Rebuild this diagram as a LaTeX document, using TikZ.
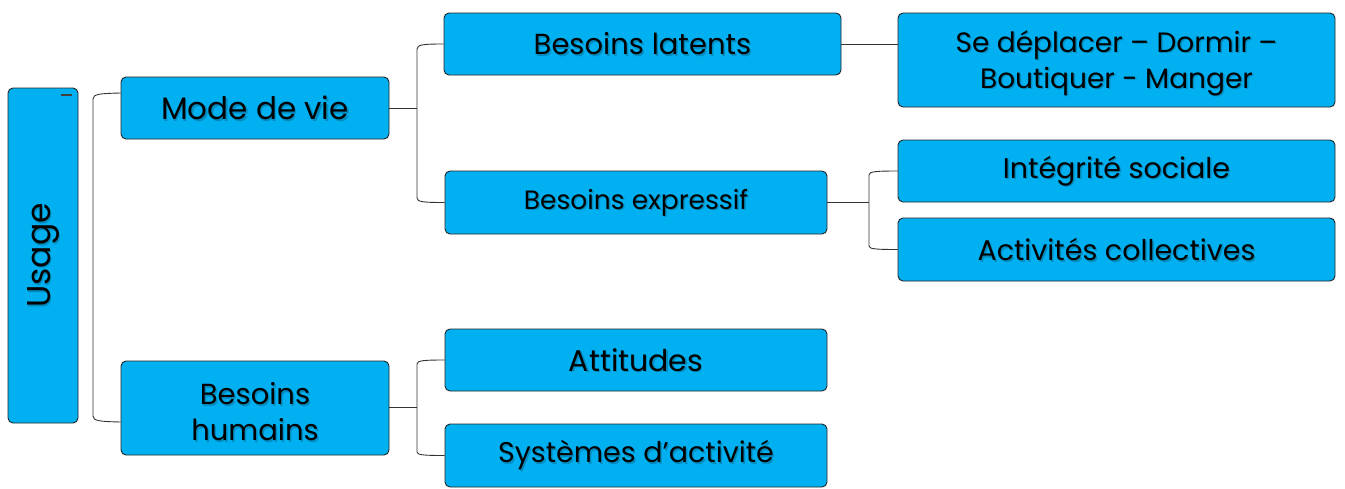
\documentclass[tikz,border=0pt]{standalone}
\usepackage{fontspec}
\setmainfont{Poppins}
\usetikzlibrary{calc}
\definecolor{boxblue}{RGB}{0,176,240}
\tikzset{
  box/.style={draw=black!85, line width=0.9pt, fill=boxblue, rounded corners=5pt, inner sep=0pt},
  lbl/.style={align=center, inner sep=0pt, text=black},
  shd/.style={align=center, inner sep=0pt, text=black, opacity=0.2},
  conn/.style={draw=black!80, line width=0.9pt}
}
% name, cx, cy, w, h, fontsize, text y-offset, text
\newcommand\bxnode[8]{%
  \node[box, minimum width=#4pt, minimum height=#5pt] (#1) at (#2,#3) {};
  \node[shd, font=\fontsize{#6pt}{36pt}\selectfont] at ($(#1.center)+(1.5,#7+1.5)$) {#8};
  \node[lbl, font=\fontsize{#6pt}{36pt}\selectfont] at ($(#1.center)+(0,#7)$) {#8};}
\begin{document}
\begin{tikzpicture}[x=1pt,y=-1pt]
\useasboundingbox (0,0) rectangle (1345,488);
% boxes
\node[box, minimum width=70pt, minimum height=335pt] (usage) at (43,255.5) {};
\node[shd, rotate=90, font=\fontsize{33pt}{36pt}\selectfont] at ($(usage.center)+(1.5,1.5)$) {Usage};
\node[lbl, rotate=90, font=\fontsize{33pt}{36pt}\selectfont] at (usage.center) {Usage};
\coordinate (d1) at (61,95);
\coordinate (d2) at (72,95);
\draw[black!75, line width=1.4pt] (d1) -- (d2);
\bxnode{mode}{255}{108}{268}{62}{31}{0}{Mode de vie}
\bxnode{hum}{255}{408}{268}{94}{29}{4}{Besoins\\humains}
\bxnode{lat}{642.5}{44}{397}{62}{29}{0}{Besoins latents}
\bxnode{exp}{636}{202.5}{382}{63}{26.5}{0}{Besoins expressif}
\bxnode{se}{1116.5}{60}{437}{94}{28}{3}{Se déplacer – Dormir –\\Boutiquer - Manger}
\bxnode{integ}{1116.5}{171}{437}{62}{28.5}{0}{Intégrité sociale}
\bxnode{activ}{1116.5}{249.5}{437}{63}{28.5}{0}{Activités collectives}
\bxnode{att}{636}{360}{382}{62}{30}{0}{Attitudes}
\bxnode{sys}{636}{455.5}{382}{63}{28.5}{0}{Systèmes d’activité}
% connectors
\draw[conn] ($(mode.west)+(0,-15)$) .. controls (100,93.5) and (93,94) .. (93,99) -- (93,416) .. controls (93,421) and (100,421.5) .. ($(hum.west)+(0,14)$);
\coordinate (j1) at (417,108);
\draw[conn] (mode.east) -- (j1);
\draw[conn] (lat.west) .. controls (424,44) and (417,44.5) .. (417,49) -- (417,198) .. controls (417,202) and (424,202.5) .. (exp.west);
\draw[conn] (lat.east) -- (se.west |- lat.east);
\coordinate (j2) at (869,202.5);
\draw[conn] (exp.east) -- (j2);
\draw[conn] (integ.west) .. controls (876,171) and (869,171.5) .. (869,175) -- (869,246) .. controls (869,249) and (876,249.5) .. (activ.west);
\coordinate (j3) at (417,407);
\draw[conn] (hum.east |- j3) -- (j3);
\draw[conn] (att.west) .. controls (424,360) and (417,360.5) .. (417,364) -- (417,452) .. controls (417,455) and (424,455.5) .. (sys.west);
\end{tikzpicture}
\end{document}
